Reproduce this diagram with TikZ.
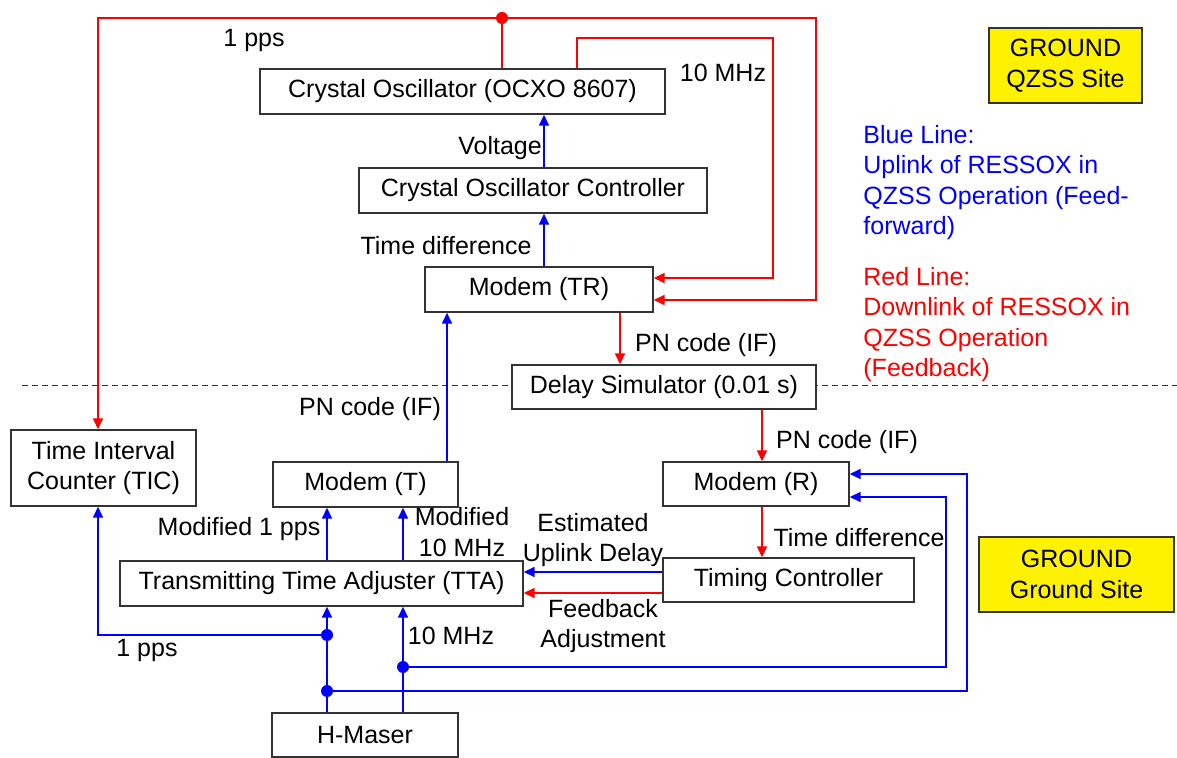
\documentclass[tikz,border=0pt]{standalone}
\usepackage{fontspec}
\setmainfont{Liberation Sans}
\usetikzlibrary{arrows.meta}
\newcommand\myfs{\fontsize{12.5}{15.2}\selectfont}
\begin{document}
\begin{tikzpicture}[x=0.5pt,y=-0.5pt,
  box/.style={draw=black!80, line width=0.7pt, fill=white, inner sep=0pt, font=\myfs, align=center},
  ybox/.style={box, fill=yellow},
  lbl/.style={inner sep=0pt, font=\myfs, align=center},
  rl/.style={draw=red, line width=0.8pt},
  bl/.style={draw=blue, line width=0.8pt},
  arr/.style={-{Triangle[length=5.5pt,width=5pt]}},
  rdot/.style={circle, fill=red, inner sep=0pt, minimum size=6pt},
  bdot/.style={circle, fill=blue, inner sep=0pt, minimum size=6pt}]
\useasboundingbox (0,0) rectangle (1177,758);
% dashed boundary
\coordinate (dl) at (22,386);
\coordinate (dr) at (1177,386);
\draw[black!80, line width=0.5pt, dash pattern=on 3pt off 2pt] (dl) -- (dr);
% boxes
\node[box, minimum width=202.5pt, minimum height=22.5pt] (ocxo) at (462.5,91.5) {Crystal Oscillator (OCXO 8607)};
\node[box, minimum width=174pt, minimum height=22.5pt] (ctrl) at (533,190.5) {Crystal Oscillator Controller};
\node[box, minimum width=114pt, minimum height=22.5pt] (tr) at (539,289.5) {Modem (TR)};
\node[box, minimum width=152pt, minimum height=22pt] (delay) at (664,387) {Delay Simulator (0.01 s)};
\node[box, minimum width=92.5pt, minimum height=38pt] (tic) at (103.5,468) {Time Interval\\Counter (TIC)};
\node[box, minimum width=92.5pt, minimum height=22.5pt] (modt) at (365.5,484.5) {Modem (T)};
\node[box, minimum width=93pt, minimum height=22pt] (modr) at (756,484) {Modem (R)};
\node[box, minimum width=201.5pt, minimum height=22.5pt] (tta) at (321.5,583.5) {Transmitting Time Adjuster (TTA)};
\node[box, minimum width=125.5pt, minimum height=22pt] (tc) at (788.5,580) {Timing Controller};
\node[box, minimum width=93pt, minimum height=22pt] (hm) at (365,735) {H-Maser};
\node[ybox, minimum width=76.5pt, minimum height=37.5pt] (y1) at (1065.5,65.5) {GROUND\\QZSS Site};
\node[ybox, minimum width=97.5pt, minimum height=37.5pt] (y2) at (1076.5,574.5) {GROUND\\Ground Site};
% red connectors
\node[rdot] (d1) at (502,18) {};
\coordinate (cL) at (98,18);
\coordinate (cR1) at (816,18);
\coordinate (cR2) at (816,300);
\draw[rl] (d1.center) -- (d1.center |- ocxo.north);
\draw[rl, arr] (d1.center) -- (cL) -- (cL |- tic.north);
\draw[rl, arr] (d1.center) -- (cR1) -- (cR2) -- (cR2 -| tr.east);
\coordinate (i1) at (577,38);
\coordinate (i2) at (773,38);
\coordinate (i3) at (773,278);
\draw[rl, arr] (i1 |- ocxo.north) -- (i1) -- (i2) -- (i3) -- (i3 -| tr.east);
\coordinate (xa) at (620,0);
\draw[rl, arr] (tr.south -| xa) -- (delay.north -| xa);
\coordinate (xb) at (762,0);
\draw[rl, arr] (delay.south -| xb) -- (modr.north -| xb);
\draw[rl, arr] (modr.south -| xb) -- (tc.north -| xb);
\coordinate (yr) at (0,593);
\draw[rl, arr] (tc.west |- yr) -- (tta.east |- yr);
% blue connectors
\coordinate (xv) at (544,0);
\draw[bl, arr] (ctrl.north -| xv) -- (ocxo.south -| xv);
\draw[bl, arr] (tr.north -| xv) -- (ctrl.south -| xv);
\coordinate (xt) at (447,0);
\draw[bl, arr] (modt.north -| xt) -- (tr.south -| xt);
\coordinate (x1) at (327,0);
\coordinate (x2) at (403,0);
\draw[bl, arr] (tta.north -| x1) -- (modt.south -| x1);
\draw[bl, arr] (tta.north -| x2) -- (modt.south -| x2);
\draw[bl, arr] (hm.north -| x1) -- (tta.south -| x1);
\draw[bl, arr] (hm.north -| x2) -- (tta.south -| x2);
\coordinate (yb) at (0,572);
\draw[bl, arr] (tc.west |- yb) -- (tta.east |- yb);
\node[bdot] (b1) at (327,635) {};
\node[bdot] (b2) at (403,667) {};
\node[bdot] (b3) at (327,691) {};
\coordinate (c98) at (98,635);
\draw[bl, arr] (b1.center) -- (c98) -- (c98 |- tic.south);
\coordinate (q1) at (946,667);
\coordinate (q2) at (946,497);
\draw[bl, arr] (b2.center) -- (q1) -- (q2) -- (q2 -| modr.east);
\coordinate (r1) at (967,691);
\coordinate (r2) at (967,474);
\draw[bl, arr] (b3.center) -- (r1) -- (r2) -- (r2 -| modr.east);
% labels
\node[lbl] (l1) at (254,41) {1 pps};
\node[lbl] (l2) at (723,73) {10 MHz};
\node[lbl] (l3) at (500,148) {Voltage};
\node[lbl] (l4) at (446,246) {Time difference};
\node[lbl] (l5) at (706,345) {PN code (IF)};
\node[lbl] (l6) at (370,409) {PN code (IF)};
\node[lbl] (l7) at (847,442) {PN code (IF)};
\node[lbl] (l8) at (239,529) {Modified 1 pps};
\node[lbl] (l9) at (462,532) {Modified\\10 MHz};
\node[lbl] (l10) at (593,540) {Estimated\\Uplink Delay};
\node[lbl] (l11) at (859,538) {Time difference};
\node[lbl] (l12) at (603,626) {Feedback\\Adjustment};
\node[lbl] (l13) at (147,650) {1 pps};
\node[lbl] (l14) at (451,636) {10 MHz};
\node[lbl, anchor=west, text=blue, align=left] (leg1) at (863,182.5) {Blue Line:\\Uplink of RESSOX in\\QZSS Operation (Feed-\\forward)};
\node[lbl, anchor=west, text=red, align=left] (leg2) at (863,324.5) {Red Line:\\Downlink of RESSOX in\\QZSS Operation\\(Feedback)};
\end{tikzpicture}
\end{document}
